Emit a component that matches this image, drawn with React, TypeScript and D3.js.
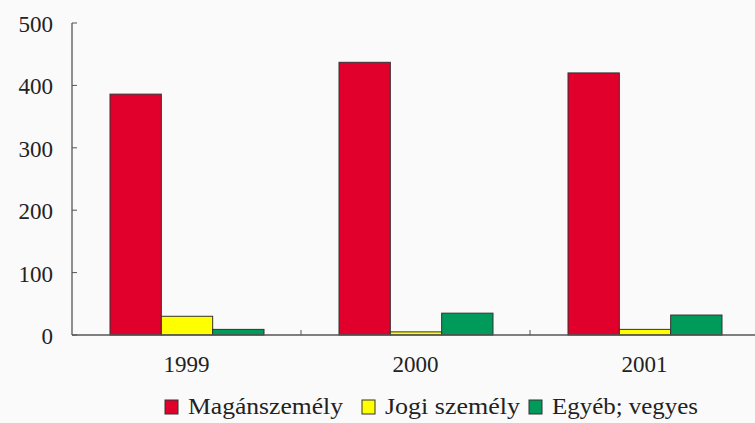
import React from "react";
import * as d3 from "d3";

const categories = ["1999", "2000", "2001"];
const seriesNames = ["Magánszemély", "Jogi személy", "Egyéb; vegyes"];
const magan = [386, 437, 420];
const jogi = [30, 5, 9];
const egyeb = [9, 35, 32];
const yTicks = [0, 100, 200, 300, 400, 500];
const colors = ["#e0002b", "#ffff00", "#009a5a"];

export default function App() {
  const W = 755, H = 423;
  const x0 = 72, x1 = 759, yTop = 23, yBot = 335;
  const x = d3.scaleBand<string>().domain(categories).range([x0, x1]).paddingInner(0).paddingOuter(0);
  const off = 38;
  const inner = d3.scaleBand<number>().domain([0, 1, 2]).range([off, x.bandwidth() - off + 1]);
  const y = d3.scaleLinear().domain([0, 500]).range([yBot, yTop]);
  const series = [magan, jogi, egyeb];
  const legendX = [165, 362, 529];
  const legendW = [155, 135, 146];
  const ts = { fontFamily: "'Liberation Serif'" };
  const k = 23 / 26;
  return (
    <svg width={W} height={H} style={{ position: "absolute", left: 0, top: 0 }}>
      <rect x={0} y={0} width={W} height={H} fill="#fafafa" />
      {series.map((vals, si) =>
        categories.map((c, ci) => {
          const bx = (x(c) as number) + (inner(si) as number);
          const by = y(vals[ci]);
          return (
            <rect key={si + "-" + ci} x={bx} y={by} width={inner.bandwidth()} height={yBot - by}
              fill={colors[si]} stroke="#333" strokeWidth={1} />
          );
        })
      )}
      <line x1={x0} x2={x0} y1={yTop} y2={yBot} stroke="#555" strokeWidth={1.3} />
      <line x1={x0} x2={W} y1={yBot} y2={yBot} stroke="#555" strokeWidth={1.3} />
      {yTicks.map((t) => (
        <g key={t}>
          <line x1={x0} x2={x0 + 5} y1={y(t)} y2={y(t)} stroke="#555" strokeWidth={1} />
          <text style={ts} transform={`translate(53,${y(t) + 9}) scale(${k})`} textAnchor="end" fontSize={26} fill="#222">{t}</text>
        </g>
      ))}
      {categories.map((c, i) => (
        <g key={c}>
          {i > 0 && <line x1={x(c)} x2={x(c)} y1={yBot} y2={yBot - 5} stroke="#555" strokeWidth={1} />}
          <text style={ts} transform={`translate(${(x(c) as number) + x.bandwidth() / 2},372) scale(${k})`} textAnchor="middle" fontSize={26} fill="#222">{c}</text>
        </g>
      ))}
      {seriesNames.map((n, i) => (
        <g key={n}>
          <rect x={legendX[i]} y={400} width={13} height={14} fill={colors[i]} stroke="#333" strokeWidth={1} />
          <text style={ts} transform={`translate(${legendX[i] + 23},414) scale(${k})`} textLength={legendW[i] / k} lengthAdjust="spacingAndGlyphs" fontSize={26} fill="#222">{n}</text>
        </g>
      ))}
    </svg>
  );
}
